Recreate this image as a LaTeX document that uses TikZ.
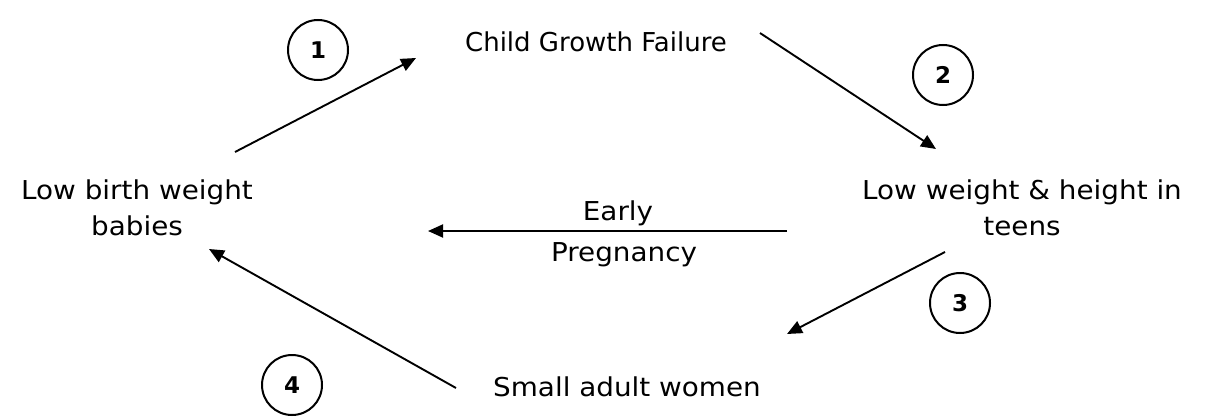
\documentclass[tikz,border=0pt]{standalone}
\usepackage{fontspec}
\setmainfont{DejaVu Sans}
\newfontfamily\widefont[FakeStretch=1.07]{DejaVu Sans}
\usetikzlibrary{arrows.meta,shapes.geometric}
\begin{document}
\begin{tikzpicture}[x=1pt,y=-1pt,
  lbl/.style={font=\widefont\fontsize{26}{36}\selectfont, align=center, inner sep=0pt},
  num/.style={draw, line width=2pt, ellipse, minimum width=60pt, minimum height=60pt, inner sep=0pt, font=\fontsize{23}{23}\selectfont\bfseries},
  arr/.style={line width=1.9pt, -{Triangle[length=15pt,width=13pt]}}]
\useasboundingbox (0,0) rectangle (1209,417);
\node[lbl, font=\rmfamily\fontsize{26}{36}\selectfont] (cgf) at (596,42) {Child Growth Failure};
\node[lbl] (lwh) at (1022,208) {Low weight \& height in\\teens};
\node[lbl] (lbw) at (137,208) {Low birth weight\\babies};
\node[lbl] (saw) at (627,387) {Small adult women};
\node[lbl] (early) at (618,213) {Early};
\node[lbl] (preg) at (624,255) {Pregnancy};
\node[num] (c1) at (318,50) {1};
\node[num] (c2) at (943,75) {2};
\node[num] (c3) at (960,303) {3};
\node[num] (c4) at (292,385) {4};
\coordinate (a1s) at (235,152);
\coordinate (a1e) at (416,58);
\coordinate (a2s) at (760,33);
\coordinate (a2e) at (936,149);
\coordinate (eps) at (787,231);
\coordinate (epe) at (428,231);
\coordinate (a3s) at (945,252);
\coordinate (a3e) at (787,334);
\coordinate (a4s) at (456,388);
\coordinate (a4e) at (209,249);
\draw[arr] (a1s) -- (a1e);
\draw[arr] (a2s) -- (a2e);
\draw[arr] (eps) -- (epe);
\draw[arr] (a3s) -- (a3e);
\draw[arr] (a4s) -- (a4e);
\end{tikzpicture}
\end{document}
